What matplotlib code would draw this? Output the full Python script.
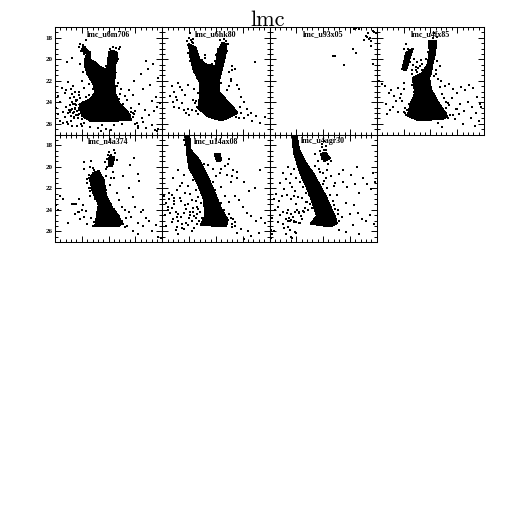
import matplotlib
matplotlib.use("Agg")
import matplotlib.pyplot as plt
from matplotlib.ticker import MultipleLocator, NullFormatter, FixedLocator

plt.rcParams['font.family'] = ['Liberation Serif', 'DejaVu Serif']

names = ["lmc_u6m706", "lmc_u6hk80", "lmc_u93x05", "lmc_u4fx85",
         "lmc_n4a374", "lmc_u14ax08", "lmc_u4agr30"]

p1_body_x = [1.04,1.19,1.31,1.29,1.5,1.66,1.94,1.98,2.03,2.13,2.29,2.34,2.25,2.26,2.21,2.24,2.39,2.71,2.84,1.94,1.31,1.0,0.91,1.31,1.5,1.44,1.29,1.13,1.13,1.19,1.04]
p1_body_y = [18.81,19.13,19.38,20.0,20.31,20.69,21.0,20.0,19.31,19.22,19.31,20.0,20.47,21.25,22.0,23.13,24.06,24.84,25.63,25.78,25.72,25.25,24.22,23.69,23.13,22.34,21.72,20.78,20.0,19.53,19.22]
p1_x = [0.05,0.12,0.2,0.3,0.36,0.42,0.5,0.55,0.6,0.66,0.72,0.78,0.85,0.9,0.3,0.45,0.52,0.62,0.7,0.8,0.1,0.25,0.38,0.58,0.68,0.75,0.88,0.5,0.6,0.7,0.82,0.4,0.2,0.65,0.9,0.55,0.75,1.0,1.3,1.6,1.9,2.1,2.2,2.5,2.85,2.95,3.05,3.15,3.25,3.35,3.5,3.6,3.7,3.82,3.9,2.9,3.0,3.1,3.3,3.55,3.75,2.95,3.2,3.45,3.65,3.85,2.75,3.4,0.45,0.62,0.9,1.15,0.95,1.05,3.1,3.4,3.6,3.3,0.47,1.7,1.75,1.0,1.1,3.72,3.8,3.85]
p1_y = [24.5,25.1,24.0,24.9,25.4,24.4,25.0,23.6,25.3,24.2,24.9,23.8,25.2,24.5,25.9,25.8,24.7,23.2,23.5,23.9,23.4,22.7,23.1,22.8,22.5,23.0,23.3,26.0,25.7,25.4,26.2,22.9,25.7,26.2,23.0,24.9,24.6,26.2,26.3,26.4,26.5,26.6,26.1,26.0,24.5,25.1,25.9,24.2,25.5,24.7,25.2,23.9,24.8,24.4,24.1,23.3,26.0,26.4,22.8,22.4,23.5,22.0,21.4,20.9,20.4,21.7,22.9,20.2,20.3,19.9,18.9,18.2,20.4,21.2,26.2,26.4,26.1,25.8,22.1,26.7,26.1,22.0,22.7,26.6,26.7,26.5]
p1_more_x = [0.95,1.05,1.0,1.1,0.98,1.12,1.2,1.35,1.42,2.05,2.18,2.28,2.4,2.44,2.32,2.48,2.55,2.62,2.9,2.78,2.92,3.0,2.85,0.6,0.67,0.75,0.83,0.9,0.7,0.78,0.86,0.55,0.62,0.72,0.8,0.88,0.65,0.73,0.81,0.95,1.05,1.15,1.25,1.4,1.55,2.3,2.45,2.6,2.7,1.35,1.2,1.3,1.25,1.18,1.45,1.55,1.6,1.9,1.8,2.35,2.42,1.02,0.98,1.1,2.38]
p1_more_y = [18.6,18.7,19.0,19.5,19.2,18.9,20.1,20.2,20.35,19.0,18.85,18.95,19.05,18.9,20.2,24.5,24.2,24.7,25.0,25.2,25.4,24.8,24.9,24.7,25.0,24.5,24.8,25.1,25.5,25.2,25.5,24.3,24.6,24.9,24.3,24.7,24.0,24.2,23.8,23.6,24.0,23.5,23.3,22.8,22.6,22.5,22.8,23.4,23.8,21.8,21.4,21.0,22.3,20.7,20.6,20.85,20.9,20.6,20.8,22.2,23.2,25.6,26.0,25.9,23.7]

p2_body_x = [1.0,1.25,1.38,1.63,2.0,2.06,2.25,2.4,2.35,2.25,2.13,2.13,2.5,2.81,2.44,2.19,1.69,1.34,1.41,1.41,1.16,1.04]
p2_body_y = [18.59,18.91,20.0,20.47,20.63,19.38,18.44,18.59,19.69,20.63,21.88,23.13,24.06,25.0,25.47,25.69,25.31,24.53,23.28,22.19,20.94,19.69]
p2_x = [0.3,0.42,0.55,0.65,0.75,0.85,0.95,0.4,0.5,0.62,0.8,0.9,1.0,1.12,1.25,0.95,0.35,0.6,0.72,2.0,2.4,2.6,2.7,2.8,2.85,2.95,3.05,3.15,3.2,3.35,3.5,3.65,3.82,2.5,2.55,2.9,3.05,3.3,1.2,1.35,1.05,1.0,1.15,0.45,1.6,2.3,2.55,2.6,1.12,3.45]
p2_y = [23.4,23.0,23.8,22.6,24.1,23.3,24.6,24.0,23.5,24.5,24.7,25.0,25.2,24.7,23.9,22.4,22.5,22.2,22.9,19.6,19.2,20.6,20.9,22.4,22.8,23.5,24.0,24.6,25.2,25.7,25.3,25.9,25.4,21.2,22.0,24.4,25.5,25.0,22.8,23.1,17.6,18.0,18.1,24.4,19.9,19.9,21.8,21.0,18.4,20.3]
p2_more_x = [0.92,0.96,1.02,1.08,1.14,0.95,1.1,1.2,1.3,1.05,1.18,1.28,1.42,1.5,1.55,1.65,2.15,2.3,2.38,2.45,2.22,2.32,2.5,2.4,2.2,2.25,2.6,2.65,2.75,2.88,2.95,1.15,1.22,1.3,1.25,1.35,2.08,1.95,1.85,1.6]
p2_more_y = [18.3,18.7,19.0,18.2,18.5,19.4,19.8,20.3,20.6,20.2,21.2,21.7,21.9,20.1,20.4,20.5,18.2,18.1,18.3,18.6,18.9,19.9,22.5,22.9,22.2,23.5,24.8,24.5,25.4,25.5,25.0,23.8,24.1,24.4,24.8,25.1,19.0,20.2,20.4,19.6]

p3_x = [3.23,3.35,3.14,3.66,3.73,3.54,3.85,3.98,3.79,3.23,3.1,2.35,2.44,2.76,3.85,3.91,3.64,3.79,3.6,3.7]
p3_y = [17.1,17.15,17.2,17.6,18.0,18.2,17.4,17.6,18.8,19.4,19.0,19.7,19.7,20.5,20.4,17.5,17.9,18.3,17.8,18.1]

p4_body_x = [1.94,2.22,2.18,2.06,2.03,1.95,2.03,2.23,2.48,2.63,2.45,1.5,1.15,1.25,1.44,1.33,1.7,1.9,1.97]
p4_body_y = [18.28,18.28,19.38,20.63,21.25,21.72,22.81,23.75,24.69,25.31,25.6,25.63,25.25,24.22,23.13,21.72,21.3,20.47,19.22]
p4_clump_x = [0.95,1.1,1.35,1.22,1.1]
p4_clump_y = [20.94,19.38,19.03,20.0,21.0]
p4_x = [0.1,0.2,0.3,0.45,0.55,0.65,0.72,0.8,0.9,1.0,0.35,0.5,0.6,0.78,0.88,0.4,1.05,1.18,1.3,1.45,1.3,1.1,1.25,1.5,1.65,2.2,2.4,2.55,2.7,2.85,3.0,3.15,3.3,3.45,3.6,3.75,3.9,2.65,2.8,2.95,3.1,3.25,3.4,3.55,3.7,3.85,2.5,2.6,2.75,2.9,3.05,3.2,3.5,3.65,3.8,2.3,2.45,2.2,2.35,2.25,1.0,1.0,1.7,1.85]
p4_y = [22.0,22.3,22.5,23.1,22.9,23.4,23.9,22.7,23.2,22.8,24.2,24.7,24.4,24.9,23.6,25.1,24.5,19.0,21.0,20.7,21.4,18.6,20.3,21.2,21.9,21.4,22.0,22.5,22.3,22.8,23.1,22.6,22.9,22.4,22.7,23.5,24.4,24.1,23.6,24.6,24.2,24.8,24.0,24.4,25.0,24.2,25.4,24.5,25.2,25.6,25.1,26.0,25.5,26.2,25.7,25.9,26.3,21.0,20.6,20.2,22.2,19.0,21.0,21.6]
p4_more_x = [1.4,1.5,1.6,1.45,1.55,1.7,1.8,1.35,1.65,1.85,2.1,2.25,2.15,2.3,2.35,1.9,2.05,1.05,1.12,1.2,0.95,1.3,1.38,2.0,2.12,2.5,2.58,2.7,2.42,2.6,2.65,1.08,1.0,2.85,3.0]
p4_more_y = [20.0,20.3,20.6,21.0,20.8,20.4,20.9,20.5,20.1,20.0,18.0,17.9,17.6,21.8,22.6,19.3,18.6,25.0,24.7,24.2,23.9,22.4,23.0,20.3,21.6,23.6,24.0,24.3,23.2,25.0,25.5,25.2,24.9,25.2,24.6]

p5_body_x = [1.44,1.63,1.81,1.91,2.13,2.34,2.5,2.38,1.5,1.56,1.63,1.38,1.31]
p5_body_y = [20.56,20.41,21.19,22.75,23.8,24.5,25.2,25.56,25.5,24.63,23.53,22.13,21.03]
p5_top_x = [2.0,2.22,2.13,2.0]
p5_top_y = [19.16,19.06,19.94,19.78]
p5_x = [0.05,0.1,0.2,0.3,0.65,0.7,0.8,0.85,0.9,1.0,1.05,1.1,1.2,0.75,0.95,1.15,1.3,1.25,1.1,1.2,1.3,1.45,2.1,2.15,2.05,2.2,2.0,1.95,1.9,2.3,2.4,2.5,2.6,2.65,2.75,2.85,3.0,3.1,3.2,3.3,3.4,3.5,3.6,3.75,3.85,3.95,2.7,2.9,3.1,3.3,2.55,2.8,3.1,3.15,2.75,2.2,2.95,2.9,1.1,1.4,1.35,2.0,0.9,0.5,1.3]
p5_y = [23.6,24.0,22.7,23.0,23.5,23.5,23.5,24.2,23.0,24.0,23.6,24.7,25.3,24.4,24.9,24.1,22.0,21.0,20.2,21.5,20.0,21.0,21.0,20.5,21.7,18.4,18.6,20.0,20.9,22.4,23.1,23.7,24.0,24.8,24.2,24.7,23.7,25.2,24.2,25.5,24.8,25.0,26.0,25.4,26.5,26.6,25.5,26.0,26.3,24.0,20.9,19.8,20.7,21.3,22.0,21.0,19.2,22.8,19.6,20.1,19.5,23.3,24.2,25.2,22.3]
p5_more_x = [1.25,1.3,1.35,1.2,1.28,1.4,1.5,1.55,1.35,1.45,1.42,1.85,1.92,1.95,2.02,2.1,2.2,2.28,2.4,2.5,2.55,2.6,1.45,1.4,1.3,2.25,2.3,2.1,2.0,2.15,1.9,1.85,1.95,2.05,1.98,2.12,2.18]
p5_more_y = [20.8,21.3,21.7,21.1,22.0,22.4,23.0,24.2,24.8,25.1,25.5,21.8,22.2,22.8,23.2,23.5,23.9,24.2,24.6,25.0,25.3,25.6,20.3,20.6,22.7,18.7,19.4,18.9,19.9,20.5,20.2,19.6,19.3,19.0,18.9,19.1,19.7]

p6_body_x = [0.88,1.01,1.04,1.41,1.66,1.96,2.19,2.44,2.38,1.44,1.59,1.56,1.31,1.0,0.91]
p6_body_y = [16.97,16.97,18.38,19.47,20.72,22.44,23.84,24.94,25.56,25.41,24.63,23.06,21.5,20.09,18.38]
p6_clump_x = [1.95,2.15,2.2,2.05]
p6_clump_y = [18.8,18.8,19.4,19.5]
p6_x = [0.05,0.15,0.25,0.35,0.45,0.55,0.65,0.75,0.85,0.95,1.05,1.15,1.25,1.35,0.1,0.2,0.3,0.4,0.5,0.6,0.7,0.8,0.9,1.0,1.1,1.2,1.3,0.15,0.35,0.55,0.75,0.95,1.15,0.45,0.65,0.85,1.05,1.25,0.4,0.6,0.8,1.0,0.5,0.8,1.1,0.6,2.4,2.55,2.7,2.85,3.0,3.15,3.3,3.5,3.7,3.85,2.2,2.45,2.65,2.8,3.05,3.25,3.45,3.65,2.0,2.2,2.35,2.5,2.7,2.95,3.2,1.7,1.9,2.15,2.35,2.6,2.8,3.05,3.3,3.6,1.55,2.5,2.8,1.9]
p6_y = [22.7,23.4,23.0,22.6,23.2,22.2,21.8,21.5,22.4,21.8,22.5,21.2,23.2,23.9,24.5,24.0,24.3,24.9,24.2,25.0,24.7,24.3,25.2,24.8,25.0,24.6,25.3,25.5,25.1,25.6,25.3,23.5,23.8,23.5,22.9,23.6,24.2,24.8,21.0,20.3,20.8,20.0,25.9,25.8,26.0,26.3,20.8,21.4,22.7,23.1,23.7,24.3,24.6,25.0,24.8,25.2,20.2,19.7,20.3,21.0,21.4,22.3,22.0,20.3,20.9,21.9,22.7,23.3,25.5,25.8,26.0,19.8,20.2,20.6,19.9,20.9,26.2,26.7,26.4,26.2,19.7,19.3,20.5,21.4]
p6_more_x = [0.82,0.85,1.1,1.2,1.3,1.45,1.5,1.65,1.8,1.95,2.05,2.2,2.3,2.5,2.55,2.6,1.25,1.35,1.45,1.4,1.5,1.38,1.28,1.12,0.2,0.35,0.55,0.7,0.9,1.05,1.15,0.45,0.25,0.6,0.75,0.95,1.2,1.3,1.55,1.6,2.65,2.72,2.6]
p6_more_y = [17.5,18.0,18.7,19.2,20.0,20.5,21.0,21.2,21.7,22.2,23.0,23.4,24.0,24.4,24.8,25.3,22.2,22.8,23.4,24.2,24.8,25.0,24.4,23.1,23.7,23.8,24.7,23.2,23.9,24.5,24.2,22.9,22.4,24.4,25.7,25.4,25.7,23.7,21.6,22.3,24.9,25.1,25.6]

p7_body_x = [0.85,1.01,1.1,1.35,1.66,2.1,2.44,2.51,2.29,1.54,1.76,1.51,1.14,0.91]
p7_body_y = [16.97,16.97,18.38,19.63,20.72,22.75,24.63,25.25,25.56,25.31,24.56,22.59,20.56,18.69]
p7_clump_x = [1.9,2.1,2.25,2.05]
p7_clump_y = [18.8,18.7,19.2,19.5]
p7_x = [0.05,0.1,0.2,0.3,0.4,0.5,0.6,0.7,0.8,0.9,1.0,1.1,1.2,0.15,0.25,0.35,0.45,0.55,0.65,0.75,0.85,0.95,1.05,1.15,1.25,1.35,0.1,0.3,0.5,0.7,0.9,1.1,1.3,0.4,0.6,0.8,1.0,1.2,0.5,0.7,0.9,1.1,0.55,0.75,0.95,0.6,0.8,1.0,0.85,2.1,2.3,2.45,2.6,2.75,2.9,3.05,3.2,3.35,3.5,3.65,3.8,3.95,2.2,2.4,2.55,2.7,2.85,3.0,3.15,3.3,3.45,3.6,3.75,3.9,1.7,1.85,2.0,2.15,2.3,1.8,1.95,2.1,2.6,2.85,3.1,3.35,2.05,2.4,2.5,1.7,1.9,3.85,0.15,0.05,2.75,3.25]
p7_y = [25.9,26.3,24.0,23.7,24.5,24.2,24.9,24.0,23.0,22.7,23.5,24.2,24.9,23.0,22.5,23.2,22.7,22.1,22.6,21.5,21.9,22.3,22.8,21.4,21.9,22.4,24.8,25.1,25.3,25.6,25.0,25.2,24.2,21.5,21.1,20.7,21.0,20.3,20.6,20.0,20.2,19.8,25.7,25.9,26.1,26.3,26.5,26.2,26.6,21.0,20.9,21.5,20.7,21.4,21.9,20.8,21.6,22.4,21.0,21.6,22.1,21.4,24.0,23.6,24.0,24.7,23.4,24.4,23.6,24.3,24.9,25.0,24.5,25.3,19.9,20.2,20.6,20.3,19.5,19.5,18.2,18.4,25.9,26.1,25.4,26.3,21.3,21.8,22.6,18.8,20.5,20.6,26.0,26.6,20.3,20.0]
p7_more_x = [0.65,0.72,0.8,0.88,0.95,1.02,1.1,1.18,1.25,1.32,1.4,1.45,1.5,1.58,1.62,1.7,1.55,1.4,1.3,1.22,1.35,1.48,1.6,1.72,2.0,2.15,2.25,2.35,2.45,2.55,2.6,1.88,1.95,2.02,2.1,2.05,1.95,2.2,0.6,0.7,0.8,0.9,1.0,0.75,1.15]
p7_more_y = [24.3,24.8,24.4,24.7,24.2,24.0,24.3,24.6,24.1,23.8,23.3,24.0,23.5,23.2,22.8,21.4,20.9,21.3,20.8,22.9,23.3,22.6,23.8,24.8,21.6,22.0,22.6,23.2,23.9,24.4,25.0,18.5,19.3,18.4,18.1,17.6,17.9,19.7,24.9,25.0,24.95,25.1,25.15,25.0,25.2]

bodies = [
    [(p1_body_x, p1_body_y)],
    [(p2_body_x, p2_body_y)],
    [],
    [(p4_body_x, p4_body_y), (p4_clump_x, p4_clump_y)],
    [(p5_body_x, p5_body_y), (p5_top_x, p5_top_y)],
    [(p6_body_x, p6_body_y), (p6_clump_x, p6_clump_y)],
    [(p7_body_x, p7_body_y), (p7_clump_x, p7_clump_y)],
]
stars = [(p1_x+p1_more_x, p1_y+p1_more_y), (p2_x+p2_more_x, p2_y+p2_more_y), (p3_x, p3_y),
         (p4_x+p4_more_x, p4_y+p4_more_y), (p5_x+p5_more_x, p5_y+p5_more_y),
         (p6_x+p6_more_x, p6_y+p6_more_y), (p7_x+p7_more_x, p7_y+p7_more_y)]
y_ticks = [18, 20, 22, 24, 26]

W = 512.0
fig = plt.figure(figsize=(5.12, 5.12), dpi=100)
left, top, pw, ph = 55, 27, 107.25, 107.5
for i, name in enumerate(names):
    row, col = i // 4, i % 4
    ax = fig.add_axes([(left + col*pw)/W, 1 - (top + (row+1)*ph)/W, pw/W, ph/W])
    for bx, by in bodies[i]:
        ax.fill(bx, by, color='k', lw=0.6, antialiased=False)
    sx, sy = stars[i]
    ax.scatter(sx, sy, s=1.0, marker='s', c='k', linewidths=0, antialiased=False)
    ax.set_xlim(0, 4)
    ax.set_ylim(27, 17)
    ax.xaxis.set_major_locator(MultipleLocator(1))
    ax.xaxis.set_minor_locator(MultipleLocator(0.2))
    ax.yaxis.set_major_locator(FixedLocator(y_ticks))
    ax.yaxis.set_minor_locator(MultipleLocator(0.5))
    ax.tick_params(which='major', direction='in', top=True, right=True, length=4, width=0.7, labelsize=5, pad=2)
    ax.tick_params(which='minor', direction='in', top=True, right=True, length=2, width=0.7)
    ax.xaxis.set_major_formatter(NullFormatter())
    if col != 0:
        ax.yaxis.set_major_formatter(NullFormatter())
    else:
        for lab in ax.get_yticklabels():
            lab.set_fontweight('bold')
    for s in ax.spines.values():
        s.set_linewidth(0.75)
    ax.text(0.5, 0.935, name, transform=ax.transAxes, ha='center', va='center', fontsize=5.7, fontweight='bold')
fig.text(268/W, 1 - 20/W, "lmc", ha='center', va='center', fontsize=16, family=['cmr10', 'DejaVu Serif'])
fig.savefig("out.png", dpi=100)
